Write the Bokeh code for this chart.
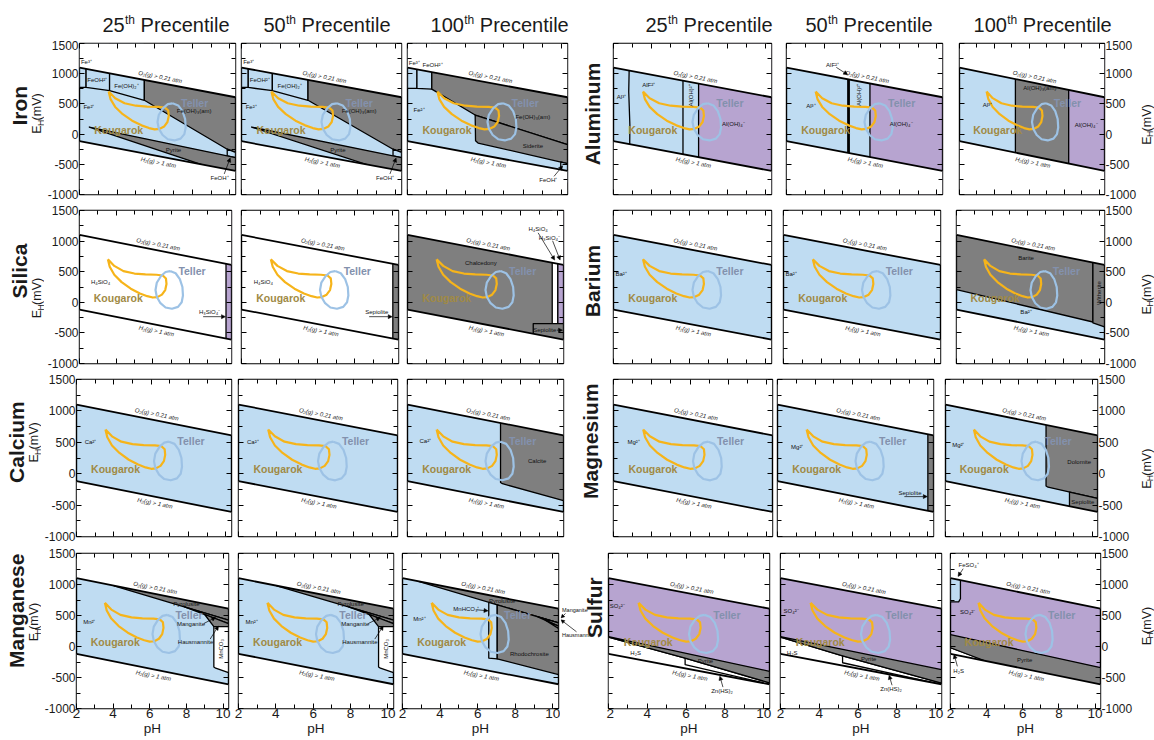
import math
from bokeh.plotting import figure
from bokeh.layouts import column, row
from bokeh.models import FixedTicker, LinearAxis, Arrow, NormalHead, Range1d
from bokeh.core.properties import value
from bokeh.embed import file_html
from bokeh.resources import INLINE

# ---------------------------------------------------------------- data
ROW_ELEMENTS_LEFT = ["Iron", "Silica", "Calcium", "Manganese"]
ROW_ELEMENTS_RIGHT = ["Aluminum", "Barium", "Magnesium", "Sulfur"]
PERCENTILES = ["25", "50", "100", "25", "50", "100"]

PH_LIMITS = [2, 10.3]
EH_LIMITS = [-1000, 1500]
PH_TICKS = [2, 4, 6, 8, 10]
PH_MINOR_TICKS = [3, 5, 7, 9]
EH_TICKS = [-1000, -500, 0, 500, 1000, 1500]
EH_MINOR_TICKS = [-750, -250, 250, 750, 1250]

O2_PH = [2, 10.3]
O2_EH = [1101, 610]
H2_PH = [2, 10.3]
H2_EH = [-118, -609]
O2_LABEL = ("O₂(g) > 0.21 atm", 6.3, 945)
H2_LABEL = ("H₂(g) > 1 atm", 6.2, -470)

KOUGAROK_PH = [3.55, 3.9, 4.4, 5.0, 5.6, 6.2, 6.55, 6.72, 6.75, 6.68, 6.5, 6.25, 6.0, 5.7, 5.3, 4.8, 4.3, 3.9, 3.65, 3.55]
KOUGAROK_EH = [705, 595, 510, 470, 455, 450, 438, 390, 300, 200, 125, 85, 78, 100, 145, 222, 330, 450, 580, 705]
TELLER_PH = [6.95, 7.25, 7.48, 7.62, 7.65, 7.58, 7.38, 7.05, 6.7, 6.42, 6.22, 6.15, 6.22, 6.45, 6.7, 6.95]
TELLER_EH = [510, 475, 380, 250, 110, 0, -75, -105, -85, -15, 90, 200, 320, 430, 495, 510]
KOUGAROK_LABEL = ("Kougarok", 2.78, 70)
TELLER_LABEL = ("Teller", 7.4, 515)

# --- Iron
IRON_25_REGIONS = [
    ("Fe³⁺", "aq", [2.0, 2.35, 2.35, 2.0], [1500, 1500, 772, 772]),
    ("FeOH²⁺", "aq", [2.35, 3.6, 3.6, 2.35], [1500, 1500, 720, 772]),
    ("Fe(OH)₂⁺", "aq", [3.6, 5.45, 5.45, 3.6], [1500, 1500, 560, 720]),
    ("Fe(OH)₃(am)", "solid", [5.45, 10.3, 10.3, 9.86, 5.45], [1500, 1500, -302, -250, 560]),
    ("FeOH⁺", "aq", [9.86, 10.3, 10.3, 9.86], [-250, -302, -390, -360]),
    ("Pyrite", "solid", [2.52, 9.86, 10.3, 10.3], [117, -360, -390, -692]),
]
IRON_25_LINES = []
IRON_25_LABELS = [("Fe³⁺", 2.37, 1190), ("FeOH²⁺", 2.95, 890), ("Fe(OH)₂⁺", 4.5, 800), ("Fe²⁺", 2.5, 450),
                  ("Fe(OH)₃(am)", 8.1, 380), ("Pyrite", 7.0, -262), ("FeOH⁺", 9.45, -720)]
IRON_25_ARROWS = [(9.7, -660, 10.02, -395)]

IRON_100_REGIONS = [
    ("Fe³⁺", "aq", [2.0, 2.49, 2.49, 2.0], [1500, 1500, 756, 756]),
    ("FeOH²⁺", "aq", [2.49, 3.26, 3.26, 2.49], [1500, 1500, 745, 756]),
    ("Fe(OH)₃(am)", "solid", [3.26, 10.3, 10.3, 5.51, 3.26], [1500, 1500, -175, 316, 745]),
    ("Siderite", "solid", [5.51, 10.3, 10.3, 5.66, 5.53], [316, -175, -488, -148, -110]),
    ("FeOH⁺", "aq", [9.95, 10.3, 10.3, 9.95], [-462, -488, -800, -800]),
]
IRON_100_LINES = []
IRON_100_LABELS = [("Fe³⁺", 2.35, 1175), ("FeOH²⁺", 3.3, 1150), ("Fe²⁺", 2.6, 400),
                   ("Fe(OH)₃(am)", 8.5, 290), ("Siderite", 8.5, -190), ("FeOH⁺", 9.3, -760)]
IRON_100_ARROWS = [(9.6, -700, 10.05, -525)]

# --- Aluminum
ALUMINUM_25_REGIONS = [("Al(OH)₄⁻", "anion", [6.47, 10.3, 10.3, 6.47], [1500, 1500, -1000, -1000])]
ALUMINUM_25_LINES = [("boundary", [2.85, 2.8, 2.86, 2.83], [1500, 700, 150, -1000]),
                     ("boundary", [5.65, 5.65], [1500, -1000])]
ALUMINUM_25_LABELS = [("Al³⁺", 2.42, 615), ("AlF²⁺", 3.85, 820), ("Al(OH)²⁺", 6.06, 640, 90), ("Al(OH)₄⁻", 8.3, 170)]
ALUMINUM_25_ARROWS = []

ALUMINUM_50_REGIONS = [("Al(OH)₄⁻", "anion", [6.44, 10.3, 10.3, 6.44], [1500, 1500, -1000, -1000])]
ALUMINUM_50_LINES = [("narrow", [5.3, 5.3], [1500, -1000])]
ALUMINUM_50_LABELS = [("Al³⁺", 3.3, 460), ("AlF²⁺", 4.45, 1150), ("Al(OH)²⁺", 5.85, 650, 90), ("Al(OH)₄⁻", 8.1, 170)]
ALUMINUM_50_ARROWS = [(4.65, 1105, 5.25, 985)]

ALUMINUM_100_REGIONS = [("Al(OH)₃(am)", "solid", [5.2, 8.25, 8.25, 5.2], [1500, 1500, -1000, -1000]),
                        ("Al(OH)₄⁻", "anion", [8.25, 10.3, 10.3, 8.25], [1500, 1500, -1000, -1000])]
ALUMINUM_100_LINES = []
ALUMINUM_100_LABELS = [("Al³⁺", 3.6, 480), ("Al(OH)₃(am)", 6.6, 770), ("Al(OH)₄⁻", 9.25, 145)]
ALUMINUM_100_ARROWS = []

# --- Silica
SILICA_25_REGIONS = [("H₃SiO₄⁻", "anion", [10.0, 10.3, 10.3, 10.0], [1500, 1500, -1000, -1000])]
SILICA_25_LABELS = [("H₄SiO₄", 3.15, 330), ("H₃SiO₄⁻", 9.1, -165)]
SILICA_25_ARROWS = [(8.75, -235, 9.97, -235)]
SILICA_50_REGIONS = [("Sepiolite", "solid", [10.0, 10.3, 10.3, 10.0], [1500, 1500, -1000, -1000])]
SILICA_50_LABELS = [("H₄SiO₄", 3.15, 330), ("Sepiolite", 9.15, -165)]
SILICA_50_ARROWS = [(8.75, -235, 9.97, -235)]
SILICA_100_REGIONS = [
    ("H₄SiO₄", "none", [9.7, 10.0, 10.0, 9.7], [1500, 1500, -1000, -1000]),
    ("H₃SiO₄⁻", "anion", [10.0, 10.3, 10.3, 10.0], [1500, 1500, -1000, -1000]),
    ("Sepiolite", "solid", [8.69, 10.3, 10.3, 8.69], [-347, -347, -1000, -1000]),
]
SILICA_100_LABELS = [("Chalcedony", 5.9, 650), ("H₄SiO₄", 8.95, 1190), ("H₃SiO₄⁻", 9.55, 1055), ("Sepiolite", 9.3, -455)]
SILICA_100_ARROWS = [(8.95, 1135, 9.83, 690), (9.72, 1005, 10.12, 690), (9.95, -455, 10.25, -455)]

# --- Barium
BARIUM_25_LABELS = [("Ba²⁺", 2.4, 470)]
BARIUM_100_REGIONS = [("Barite", "solid", [2.0, 9.65, 9.65, 2.0], [1500, 1500, -322, 208]),
                      ("Witherite", "solid", [9.65, 10.3, 10.3, 9.65], [1500, 1500, -400, -335])]
BARIUM_100_LABELS = [("Barite", 5.9, 720), ("Witherite", 9.98, 150, 90), ("Ba²⁺", 5.9, -160)]

# --- Calcium
CALCIUM_25_LABELS = [("Ca²⁺", 2.75, 510)]
CALCIUM_100_REGIONS = [("Calcite", "solid", [6.95, 10.3, 10.3, 7.05, 6.95], [1500, 1500, -429, -160, -140])]
CALCIUM_100_LABELS = [("Ca²⁺", 2.95, 520), ("Calcite", 8.9, 205)]

# --- Magnesium
MAGNESIUM_25_LABELS = [("Mg²⁺", 3.05, 500)]
MAGNESIUM_50_REGIONS = [("Sepiolite", "solid", [10.0, 10.3, 10.3, 10.0], [1500, 1500, -1000, -1000])]
MAGNESIUM_50_LABELS = [("Mg²⁺", 3.05, 430), ("Sepiolite", 9.05, -300)]
MAGNESIUM_50_ARROWS = [(8.75, -365, 9.97, -365)]
MAGNESIUM_100_REGIONS = [("Dolomite", "solid", [7.49, 10.3, 10.3, 7.6, 7.49], [1500, 1500, -393, -215, -195]),
                         ("Sepiolite", "solid", [8.77, 10.3, 10.3, 8.77], [-292, -393, -1000, -1000])]
MAGNESIUM_100_LABELS = [("Mg²⁺", 2.7, 455), ("Dolomite", 9.3, 190), ("Sepiolite", 9.5, -445)]

# --- Manganese
MANGANESE_25_REGIONS = [
    ("Pyrolusite", "solid", [4.05, 10.3, 10.3, 4.05], [979, 427, 1500, 1500]),
    ("Manganite", "solid", [7.9, 10.3, 10.3], [639, 427, 370]),
    ("Hausmannite", "solid", [9.0, 10.3, 10.3, 9.5], [516, 370, 320, 320]),
    ("MnCO₃", "none", [9.5, 10.3, 10.3, 9.6, 9.5], [320, 320, -420, -350, -330]),
]
MANGANESE_25_LABELS = [("Mn²⁺", 2.7, 400), ("Pyrolusite", 8.0, 690), ("Manganite", 8.25, 365),
                       ("Hausmannite", 8.5, 80), ("MnCO₃", 9.9, -40, 90)]
MANGANESE_25_ARROWS = [(8.95, 370, 9.6, 470), (9.3, 120, 9.75, 330)]

MANGANESE_100_REGIONS = [
    ("Pyrolusite", "solid", [2.8, 10.3, 10.3, 2.8], [1054, 380, 1500, 1500]),
    ("MnHCO₃⁺", "aq", [6.59, 7.04, 7.04, 6.59], [713, 673, -200, -186]),
    ("Rhodochrosite", "solid", [7.04, 10.3, 10.3, 7.04], [673, 380, -453, -200]),
    ("Manganite", "solid", [9.2, 10.3, 10.3], [479, 380, 330]),
    ("Hausmannite", "solid", [9.6, 10.3, 10.3], [425, 330, 290]),
]
MANGANESE_100_LABELS = [("Mn²⁺", 2.9, 450), ("MnHCO₃⁺", 5.4, 600), ("Pyrolusite", 7.3, 730), ("Rhodochrosite", 8.75, -120)]
MANGANESE_100_ARROWS = [(5.95, 592, 6.55, 575)]
# labels printed beside the Manganese 100th panel (page pixels of the gap)
MANGANESE_100_SIDE_TEXT = [("Manganite", 561.5, 616), ("Hausmannite", 561.5, 648)]
MANGANESE_100_SIDE_ARROWS = [(565, 620.5, 560.5, 626), (576, 643.5, 560.5, 628.5)]

# --- Sulfur
SULFUR_25_REGIONS = [
    ("H₂S", "none", [2.0, 5.95, 10.3, 10.3, 2.0], [150, -186, -586, -1000, -1000]),
    ("Pyrite", "solid", [2.0, 10.3, 10.3, 5.95, 2.0], [160, -400, -586, -186, 150]),
]
SULFUR_25_LINES = [("boundary", [5.95, 5.95, 10.0], [-186, -293, -585])]
SULFUR_25_LABELS = [("SO₄²⁻", 2.45, 660), ("H₂S", 3.4, -110), ("Pyrite", 7.0, -232), ("Zn(HS)₂", 7.85, -715)]
SULFUR_25_ARROWS = [(7.9, -655, 7.74, -478)]

SULFUR_50_REGIONS = [
    ("H₂S", "none", [2.0, 5.2, 10.3, 10.3, 2.0], [150, -150, -590, -1000, -1000]),
    ("Pyrite", "solid", [2.0, 10.3, 10.3, 5.2, 2.0], [160, -373, -590, -150, 150]),
]
SULFUR_50_LINES = [("boundary", [5.2, 5.2, 9.8], [-150, -262, -580])]
SULFUR_50_LABELS = [("SO₄²⁻", 2.55, 580), ("H₂S", 2.6, -107), ("Pyrite", 6.55, -205), ("Zn(HS)₂", 7.7, -680)]
SULFUR_50_ARROWS = [(7.75, -625, 7.6, -465)]

SULFUR_100_REGIONS = [
    ("FeSO₄⁺", "aq", [2.0, 2.55, 2.55, 2.45, 2.0], [1500, 1500, 770, 720, 720]),
    ("H₂S", "none", [2.0, 3.9, 3.9, 2.0], [-20, -230, -1000, -1000]),
    ("Pyrite", "solid", [2.0, 10.3, 10.3, 3.9, 3.9, 2.0], [190, -340, -1000, -1000, -230, -20]),
]
SULFUR_100_LABELS = [("FeSO₄⁺", 3.0, 1310), ("SO₄²⁻", 2.95, 560), ("H₂S", 2.45, -390), ("Pyrite", 6.1, -220)]
SULFUR_100_ARROWS = [(2.7, 1255, 2.42, 1130), (2.38, -320, 2.2, -130)]

# panel table (base field, regions, extra boundaries, labels, arrows)
PANELS = [
    [("aq", IRON_25_REGIONS, IRON_25_LINES, IRON_25_LABELS, IRON_25_ARROWS),
     ("aq", IRON_25_REGIONS, IRON_25_LINES, IRON_25_LABELS, IRON_25_ARROWS),
     ("aq", IRON_100_REGIONS, IRON_100_LINES, IRON_100_LABELS, IRON_100_ARROWS),
     ("aq", ALUMINUM_25_REGIONS, ALUMINUM_25_LINES, ALUMINUM_25_LABELS, ALUMINUM_25_ARROWS),
     ("aq", ALUMINUM_50_REGIONS, ALUMINUM_50_LINES, ALUMINUM_50_LABELS, ALUMINUM_50_ARROWS),
     ("aq", ALUMINUM_100_REGIONS, ALUMINUM_100_LINES, ALUMINUM_100_LABELS, ALUMINUM_100_ARROWS)],
    [("none", SILICA_25_REGIONS, [], SILICA_25_LABELS, SILICA_25_ARROWS),
     ("none", SILICA_50_REGIONS, [], SILICA_50_LABELS, SILICA_50_ARROWS),
     ("solid", SILICA_100_REGIONS, [], SILICA_100_LABELS, SILICA_100_ARROWS),
     ("aq", [], [], BARIUM_25_LABELS, []),
     ("aq", [], [], BARIUM_25_LABELS, []),
     ("aq", BARIUM_100_REGIONS, [], BARIUM_100_LABELS, [])],
    [("aq", [], [], CALCIUM_25_LABELS, []),
     ("aq", [], [], CALCIUM_25_LABELS, []),
     ("aq", CALCIUM_100_REGIONS, [], CALCIUM_100_LABELS, []),
     ("aq", [], [], MAGNESIUM_25_LABELS, []),
     ("aq", MAGNESIUM_50_REGIONS, [], MAGNESIUM_50_LABELS, MAGNESIUM_50_ARROWS),
     ("aq", MAGNESIUM_100_REGIONS, [], MAGNESIUM_100_LABELS, [])],
    [("aq", MANGANESE_25_REGIONS, [], MANGANESE_25_LABELS, MANGANESE_25_ARROWS),
     ("aq", MANGANESE_25_REGIONS, [], MANGANESE_25_LABELS, MANGANESE_25_ARROWS),
     ("aq", MANGANESE_100_REGIONS, [], MANGANESE_100_LABELS, MANGANESE_100_ARROWS),
     ("anion", SULFUR_25_REGIONS, SULFUR_25_LINES, SULFUR_25_LABELS, SULFUR_25_ARROWS),
     ("anion", SULFUR_50_REGIONS, SULFUR_50_LINES, SULFUR_50_LABELS, SULFUR_50_ARROWS),
     ("anion", SULFUR_100_REGIONS, [], SULFUR_100_LABELS, SULFUR_100_ARROWS)],
]

# ---------------------------------------------------------------- styles / layout
FONT = "Liberation Sans"
TEXT = "#1a1a1a"
KIND_COLORS = {"aq": "#BFDCF2", "solid": "#7F7F7F", "anion": "#B7A4D0", "none": "#FFFFFF"}
KOUG_COLOR = "#F6B41A"
TELLER_COLOR = "#9DC2E5"
KOUG_TEXT = "#A08A45"
TELLER_TEXT = "#8391AD"

# frame rectangles on the page (left, top, right, bottom)
FRAMES = [
    [(76, 42, 235, 201), (241, 42, 401, 201), (407, 42, 567, 201), (613, 43, 771, 199), (786, 42, 942, 195), (959, 42, 1107, 194)],
    [(76, 210, 231, 367), (241, 210, 398, 367), (407, 210, 563, 367), (613, 210, 771, 367), (783, 210, 940, 363), (956, 210, 1107, 363)],
    [(73, 379, 231, 537), (238, 379, 397, 537), (407, 378, 563, 536), (613, 378, 772, 536), (777, 378, 933, 536), (945, 378, 1100, 536)],
    [(73, 553, 228, 708), (238, 553, 393, 708), (402, 553, 558, 708), (608, 550, 769, 708), (780, 549, 941, 708), (950, 549, 1103, 708)],
]
HEADER_H = 40
Y_SPLITS = [40, 205, 372, 545, 740]
PAGE_W = 1154
AXIS_BORDER = 32   # room for the outer tick labels

# header: right end of the number, and the text middle line (page px)
HEADER_NUMBER_END = [124.2, 285.2, 463.4, 667.2, 827.2, 1006.4]
HEADER_MID = 24
LEFT_ROW_LABEL_Y = [108, 271, 441, 617]
RIGHT_ROW_LABEL = ([592, 592, 590, 594], [117, 282, 440, 613])
LEFT_EH_Y = [116, 300, 441, 633]
RIGHT_EH = (1146.5, [128, 296, 470, 638])


def style_axis(ax, ticks, minor, show, size="12px", standoff=1):
    ax.ticker = FixedTicker(ticks=ticks, minor_ticks=minor)
    ax.axis_line_color = None
    ax.major_tick_in = 5
    ax.major_tick_out = 0
    ax.minor_tick_in = 4
    ax.minor_tick_out = 0
    ax.major_tick_line_color = "black"
    ax.minor_tick_line_color = "black"
    ax.major_tick_line_width = 1
    ax.minor_tick_line_width = 1
    if show:
        ax.major_label_text_font = FONT
        ax.major_label_text_font_size = size
        ax.major_label_text_color = TEXT
        ax.major_label_standoff = standoff
        ax.major_label_overrides = {t: str(t) for t in ticks}
    else:
        ax.major_label_text_font_size = "0px"
        ax.major_label_standoff = 0
        ax.major_label_text_color = None


def strip_fig(x0, x1, y0, y1):
    """A blank figure whose data units are page pixels (y measured downward as -y)."""
    p = figure(width=int(x1 - x0), height=int(y1 - y0), title=None,
               x_range=Range1d(x0, x1), y_range=Range1d(-y1, -y0),
               x_axis_type=None, y_axis_type=None, output_backend="svg", toolbar_location=None,
               min_border_left=0, min_border_right=0, min_border_top=0, min_border_bottom=0,
               background_fill_color="white", border_fill_color="white", outline_line_color=None)
    p.grid.visible = False
    return p


def strip_text(p, x, y, text, size, align="left", angle=0.0, style="normal", color=TEXT):
    p.text(x=[x], y=[-y], text=[text], angle=angle, text_font=value(FONT), text_font_size=value(size),
           text_font_style=style, text_color=color, text_align=align, text_baseline="middle")


def eh_label(p, cx, cy, sub_shift):
    """E_H (mV), rotated to read upwards; cx is the middle line of the capital E."""
    e_w, h_w, rest_w = 0.667 * 12.5, 0.722 * 8.5, 2.444 * 12.5
    y_start = cy + (e_w + h_w + rest_w) / 2
    strip_text(p, cx, y_start, "E", "12.5px", angle=math.pi / 2)
    strip_text(p, cx + sub_shift, y_start - e_w, "H", "8.5px", angle=math.pi / 2)
    strip_text(p, cx, y_start - e_w - h_w, "(mV)", "12.5px", angle=math.pi / 2)


def build_panel(r, c, x0, x1):
    l, t, rr, b = FRAMES[r][c]
    y0, y1 = Y_SPLITS[r], Y_SPLITS[r + 1]
    base, regions, lines, labels, arrows = PANELS[r][c]
    p = figure(width=int(x1 - x0), height=int(y1 - y0), title=None,
               x_range=Range1d(PH_LIMITS[0], PH_LIMITS[1]), y_range=Range1d(EH_LIMITS[0], EH_LIMITS[1]),
               output_backend="svg", toolbar_location=None,
               min_border_left=int(l - x0), min_border_right=int(x1 - rr),
               min_border_top=int(t - y0), min_border_bottom=int(y1 - b),
               background_fill_color=KIND_COLORS[base], border_fill_color="white",
               outline_line_color="black", outline_line_width=1.4)
    p.grid.visible = False
    p.add_layout(LinearAxis(), "above")
    p.add_layout(LinearAxis(), "right")
    style_axis(p.below[0], PH_TICKS, PH_MINOR_TICKS, r == 3, "13.5px", 0)
    style_axis(p.above[0], PH_TICKS, PH_MINOR_TICKS, False)
    style_axis(p.left[0], EH_TICKS, EH_MINOR_TICKS, c == 0, "12px", 1)
    style_axis(p.right[0], EH_TICKS, EH_MINOR_TICKS, c == 5, "12px", 1)
    if r == 3:
        ax = p.below[0]
        ax.axis_label = "pH"
        ax.axis_label_text_font = FONT
        ax.axis_label_text_font_size = "13.5px"
        ax.axis_label_text_font_style = "normal"
        ax.axis_label_text_color = TEXT
        ax.axis_label_standoff = 0

    # stability fields
    if regions:
        p.patches(xs=[reg[2] for reg in regions], ys=[reg[3] for reg in regions],
                  fill_color=[KIND_COLORS[reg[1]] for reg in regions],
                  line_color="black", line_width=1.3, line_join="round")
    for kind, xs, ys in lines:
        p.line(xs, ys, line_color="black", line_width=2.8 if kind == "narrow" else 1.3)

    # water stability limits
    p.patch([O2_PH[0], O2_PH[1], PH_LIMITS[1], PH_LIMITS[0]],
            [O2_EH[0], O2_EH[1], EH_LIMITS[1], EH_LIMITS[1]], fill_color="white", line_color=None)
    p.patch([H2_PH[0], H2_PH[1], PH_LIMITS[1], PH_LIMITS[0]],
            [H2_EH[0], H2_EH[1], EH_LIMITS[0], EH_LIMITS[0]], fill_color="white", line_color=None)
    p.line(O2_PH, O2_EH, line_color="black", line_width=1.8)
    p.line(H2_PH, H2_EH, line_color="black", line_width=1.8)

    fw, fh = rr - l, b - t
    ang = math.atan((O2_EH[1] - O2_EH[0]) / (O2_PH[1] - O2_PH[0])
                    * (fh / (EH_LIMITS[1] - EH_LIMITS[0])) / (fw / (PH_LIMITS[1] - PH_LIMITS[0])))
    p.text(x=[O2_LABEL[1], H2_LABEL[1]], y=[O2_LABEL[2], H2_LABEL[2]], text=[O2_LABEL[0], H2_LABEL[0]],
           angle=ang, text_font=value(FONT), text_font_size=value("6px"), text_font_style="italic",
           text_color=TEXT, text_align="center", text_baseline="middle")

    # sample fields
    p.line(KOUGAROK_PH, KOUGAROK_EH, line_color=KOUG_COLOR, line_width=2.2, line_join="round")
    p.line(TELLER_PH, TELLER_EH, line_color=TELLER_COLOR, line_width=2.2, line_join="round")
    p.text(x=[KOUGAROK_LABEL[1]], y=[KOUGAROK_LABEL[2]], text=[KOUGAROK_LABEL[0]],
           text_font=value(FONT), text_font_size=value("10.5px"), text_font_style="bold",
           text_color=KOUG_TEXT, text_align="left", text_baseline="middle")
    p.text(x=[TELLER_LABEL[1]], y=[TELLER_LABEL[2]], text=[TELLER_LABEL[0]],
           text_font=value(FONT), text_font_size=value("10.5px"), text_font_style="bold",
           text_color=TELLER_TEXT, text_align="left", text_baseline="middle")

    # species labels
    if labels:
        p.text(x=[lb[1] for lb in labels], y=[lb[2] for lb in labels], text=[lb[0] for lb in labels],
               angle=[math.radians(lb[3]) if len(lb) > 3 else 0.0 for lb in labels],
               text_font=value(FONT), text_font_size=value("6px"), text_color="#111111",
               text_align="center", text_baseline="middle")
    for (xa, ya, xb, yb) in arrows:
        p.add_layout(Arrow(end=NormalHead(size=4, fill_color="black", line_color="black", line_width=0.5),
                           x_start=xa, y_start=ya, x_end=xb, y_end=yb, line_width=0.7, line_color="black"))
    return p


# ---------------------------------------------------------------- header
header = strip_fig(0, PAGE_W, 0, HEADER_H)
for c in range(6):
    a = HEADER_NUMBER_END[c]
    strip_text(header, a, HEADER_MID, PERCENTILES[c], "20px", align="right")
    strip_text(header, a + 0.3, HEADER_MID - 4.5, "th", "12px", align="left")
    strip_text(header, a + 15.9, HEADER_MID, "Precentile", "20px", align="left")

rows = [header]
for r in range(4):
    fr = FRAMES[r]
    y0, y1 = Y_SPLITS[r], Y_SPLITS[r + 1]
    splits = [0,
              fr[0][0] - AXIS_BORDER,
              (fr[0][2] + fr[1][0]) // 2,
              (fr[1][2] + fr[2][0]) // 2,
              fr[2][2] + 2,
              fr[3][0] - 2,
              (fr[3][2] + fr[4][0]) // 2,
              (fr[4][2] + fr[5][0]) // 2,
              fr[5][2] + AXIS_BORDER,
              PAGE_W]
    kids = []
    # left strip: element name and EH title
    ls = strip_fig(splits[0], splits[1], y0, y1)
    eh_cx = splits[1] - 8
    strip_text(ls, eh_cx - 17, LEFT_ROW_LABEL_Y[r], ROW_ELEMENTS_LEFT[r], "21px",
               align="center", angle=math.pi / 2, style="bold")
    eh_label(ls, eh_cx, LEFT_EH_Y[r], 4.0)
    kids.append(ls)
    kids.append(build_panel(r, 0, splits[1], splits[2]))
    kids.append(build_panel(r, 1, splits[2], splits[3]))
    kids.append(build_panel(r, 2, splits[3], splits[4]))
    # middle strip: element name of the right block
    ms = strip_fig(splits[4], splits[5], y0, y1)
    strip_text(ms, RIGHT_ROW_LABEL[0][r], RIGHT_ROW_LABEL[1][r], ROW_ELEMENTS_RIGHT[r], "21px",
               align="center", angle=math.pi / 2, style="bold")
    if r == 3:
        for (txt, xx, yy) in MANGANESE_100_SIDE_TEXT:
            strip_text(ms, xx, yy, txt, "5.5px", align="left", color="#111111")
        for (xa, ya, xb, yb) in MANGANESE_100_SIDE_ARROWS:
            ms.add_layout(Arrow(end=NormalHead(size=3.5, fill_color="black", line_color="black", line_width=0.5),
                                x_start=xa, y_start=-ya, x_end=xb, y_end=-yb, line_width=0.7, line_color="black"))
    kids.append(ms)
    kids.append(build_panel(r, 3, splits[5], splits[6]))
    kids.append(build_panel(r, 4, splits[6], splits[7]))
    kids.append(build_panel(r, 5, splits[7], splits[8]))
    # right strip: EH title
    rs = strip_fig(splits[8], splits[9], y0, y1)
    eh_label(rs, max(RIGHT_EH[0], splits[8] + 7.3), RIGHT_EH[1][r], 2.5)
    kids.append(rs)
    rows.append(row(*kids, spacing=0))

layout = column(*rows, spacing=0)
open("out.html", "w").write(file_html(layout, INLINE, title="Eh-pH diagrams"))
